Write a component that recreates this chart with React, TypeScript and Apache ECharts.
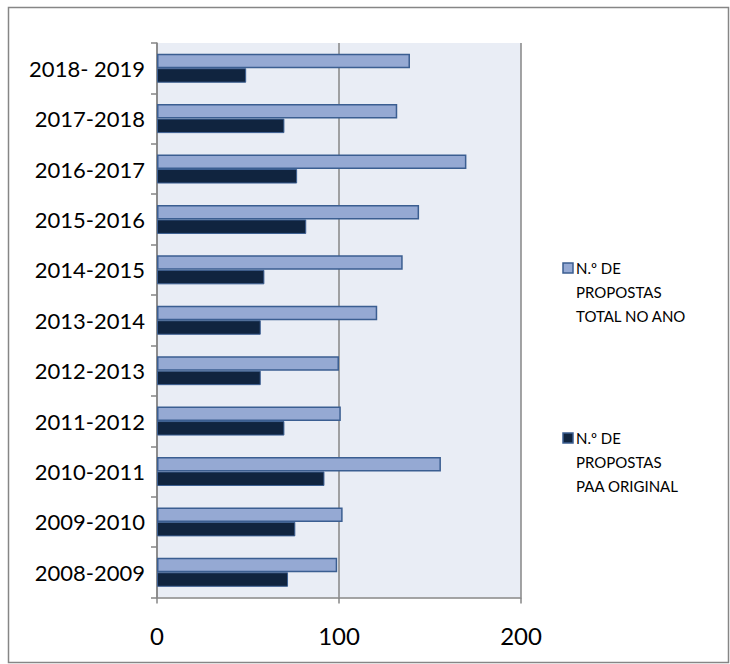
import React, { useEffect, useRef } from "react";
import * as echarts from "echarts";

const categories = [
  "2008-2009",
  "2009-2010",
  "2010-2011",
  "2011-2012",
  "2012-2013",
  "2013-2014",
  "2014-2015",
  "2015-2016",
  "2016-2017",
  "2017-2018",
  "2018- 2019",
];
const totalNoAno = [99, 102, 156, 101, 100, 121, 135, 144, 170, 132, 139];
const paaOriginal = [72, 76, 92, 70, 57, 57, 59, 82, 77, 70, 49];
const xTicks = { min: 0, max: 200, interval: 100 };
const seriesNames = ["N.º DE PROPOSTAS TOTAL NO ANO", "N.º DE PROPOSTAS PAA ORIGINAL"];
const legendLines = [
  ["N.º DE", "PROPOSTAS", "TOTAL NO ANO"],
  ["N.º DE", "PROPOSTAS", "PAA ORIGINAL"],
];

const FONT = "Lato, 'Noto Sans', sans-serif";
const LIGHT = "#95A9D3";
const DARK = "#10243F";
const EDGE = "#3B5E91";
const GRAY = "#868686";

export default function App() {
  const ref = useRef<HTMLDivElement>(null);
  useEffect(() => {
    if (!ref.current) return;
    const chart = echarts.init(ref.current, undefined, { renderer: "svg" });
    const legendGraphics: any[] = [];
    const legendTop = [268, 438];
    const colors = [LIGHT, DARK];
    legendLines.forEach((lines, i) => {
      legendGraphics.push({
        type: "rect",
        shape: { x: 563, y: legendTop[i] - 5, width: 10, height: 10 },
        style: { fill: colors[i], stroke: EDGE, lineWidth: 1.5 },
      });
      lines.forEach((ln, j) => {
        legendGraphics.push({
          type: "text",
          x: 576,
          y: legendTop[i] + j * 24,
          style: {
            text: ln,
            fill: "#000",
            font: `15px ${FONT}`,
            verticalAlign: "middle",
            align: "left",
          },
        });
      });
    });
    chart.setOption({
      animation: false,
      backgroundColor: "#fff",
      grid: {
        left: 157,
        top: 43,
        right: 209,
        bottom: 66.5,
        show: true,
        backgroundColor: "#E9EDF5",
        borderWidth: 0,
      },
      xAxis: {
        type: "value",
        min: xTicks.min,
        max: xTicks.max,
        interval: xTicks.interval,
        axisLine: { show: true, lineStyle: { color: GRAY, width: 1.5 } },
        axisTick: { show: true, length: 6, lineStyle: { color: GRAY, width: 1.5 } },
        splitLine: { show: true, lineStyle: { color: GRAY, width: 1.5 } },
        axisLabel: { color: "#000", fontSize: 24, fontFamily: FONT, margin: 26 },
      },
      yAxis: {
        type: "category",
        data: categories,
        axisLine: { show: true, lineStyle: { color: GRAY, width: 1.5 } },
        axisTick: { show: true, length: 6, lineStyle: { color: GRAY, width: 1.5 } },
        axisLabel: { color: "#000", fontSize: 22, fontFamily: FONT, margin: 12 },
      },
      series: [
        {
          name: seriesNames[0],
          type: "bar",
          data: totalNoAno,
          barWidth: 14.5,
          barGap: "0%",
          itemStyle: { color: LIGHT, borderColor: EDGE, borderWidth: 1.5 },
        },
        {
          name: seriesNames[1],
          type: "bar",
          data: paaOriginal,
          barWidth: 14.5,
          barGap: "0%",
          itemStyle: { color: DARK, borderColor: EDGE, borderWidth: 1 },
        },
      ],
      graphic: [
        {
          type: "rect",
          shape: { x: 8.5, y: 7.5, width: 720, height: 655 },
          style: { fill: "none", stroke: GRAY, lineWidth: 1.5 },
          silent: true,
        },
        ...legendGraphics,
      ],
    });
    return () => chart.dispose();
  }, []);
  return (
    <div
      ref={ref}
      style={{ position: "absolute", left: 0, top: 0, width: 730, height: 664 }}
    />
  );
}
